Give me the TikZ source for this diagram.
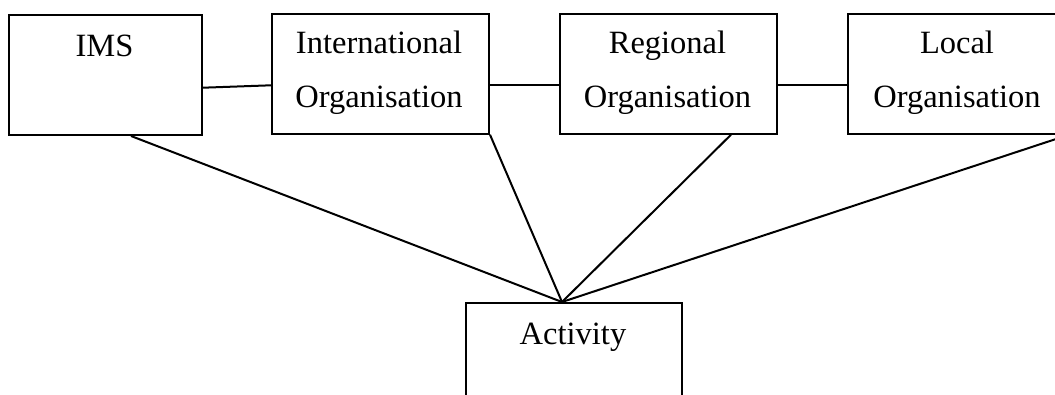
\documentclass[tikz,border=0pt]{standalone}
\usepackage{fontspec}
\setmainfont{Liberation Serif}
\begin{document}
\begin{tikzpicture}[x=1pt,y=-1pt,
  box/.style={draw=black, line width=2pt, rectangle, inner sep=0pt, anchor=north west},
  lbl/.style={anchor=base, inner sep=0pt, font=\fontsize{32.5}{32.5}\selectfont},
  conn/.style={draw=black, line width=2pt}]
\useasboundingbox (0,0) rectangle (1055,394);
\clip (0,0) rectangle (1055,394);
\fill[white] (0,0) rectangle (1055,394);
% boxes
\node[box, minimum width=193pt, minimum height=120pt] (ims) at (8,14) {};
\node[box, minimum width=217pt, minimum height=120pt] (intl) at (271,12.7) {};
\node[box, minimum width=217pt, minimum height=120pt] (reg) at (559,12.7) {};
\node[box, minimum width=220pt, minimum height=120pt] (loc) at (847,12.7) {};
\node[box, minimum width=216pt, minimum height=130pt] (act) at (465,302) {};
% labels
\node[lbl] (imsA) at (104.5,56) {IMS};
\node[lbl] (intlA) at (379,53.3) {International};
\node[lbl] (intlB) at (379,107) {Organisation};
\node[lbl] (regA) at (667.5,53.3) {Regional};
\node[lbl] (regB) at (667.5,107) {Organisation};
\node[lbl] (locA) at (957,53.3) {Local};
\node[lbl] (locB) at (957,107) {Organisation};
\node[lbl] (actA) at (573,344) {Activity};
% connectors
\draw[conn] ([yshift=-12.7pt]ims.east) -- ([yshift=-11.6pt]intl.west);
\draw[conn] ([yshift=-11.6pt]intl.east) -- ([yshift=-11.6pt]reg.west);
\draw[conn] ([yshift=-11.6pt]reg.east) -- ([yshift=-11.6pt]loc.west);
\coordinate (apex) at ([xshift=-12pt]act.north);
\draw[conn] ([xshift=25.5pt]ims.south) -- (apex);
\draw[conn] (intl.south east) -- (apex);
\draw[conn] ([xshift=62.5pt]reg.south) -- (apex);
\draw[conn] (loc.south east) -- (apex);
\end{tikzpicture}
\end{document}
